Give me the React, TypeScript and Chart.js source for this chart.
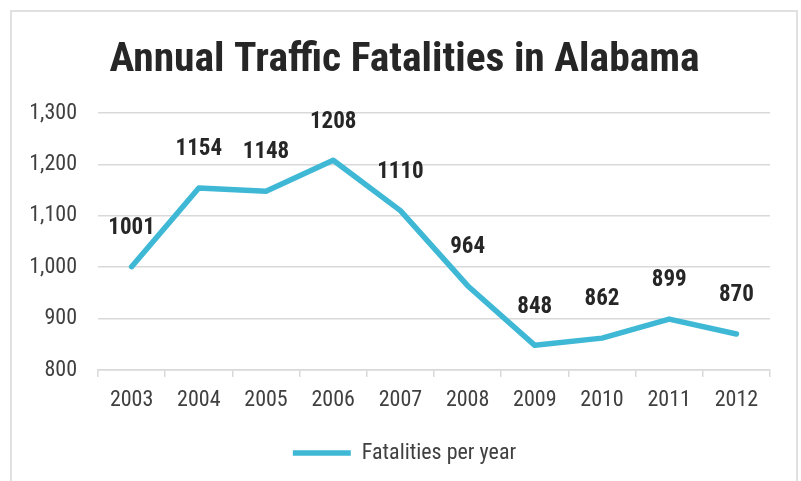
import { useEffect, useRef } from "react";
import { Chart, registerables } from "chart.js";

Chart.register(...registerables);

const years = ["2003", "2004", "2005", "2006", "2007", "2008", "2009", "2010", "2011", "2012"];
const fatalities = [1001, 1154, 1148, 1208, 1110, 964, 848, 862, 899, 870];
const yTicks = [800, 900, 1000, 1100, 1200, 1300];
const titleText = "Annual Traffic Fatalities in Alabama";
const seriesName = "Fatalities per year";

const FONT = "'Roboto Condensed', 'Open Sans Condensed', 'DejaVu Sans Condensed', sans-serif";
const LINE_COLOR = "#3FB8D5";

const valueLabels = {
  id: "valueLabels",
  afterDatasetsDraw(chart: any) {
    const ctx = chart.ctx;
    const meta = chart.getDatasetMeta(0);
    ctx.save();
    ctx.font = `bold 23px ${FONT}`;
    ctx.fillStyle = "#262626";
    ctx.textAlign = "center";
    ctx.textBaseline = "middle";
    meta.data.forEach((el: any, i: number) => {
      ctx.fillText(String(fatalities[i]), el.x, el.y - 38.5);
    });
    ctx.restore();
  },
};

export default function App() {
  const canvasRef = useRef<HTMLCanvasElement>(null);

  useEffect(() => {
    if (!canvasRef.current) return;
    const chart = new Chart(canvasRef.current, {
      type: "line",
      data: {
        labels: years,
        datasets: [
          {
            label: seriesName,
            data: fatalities,
            borderColor: LINE_COLOR,
            backgroundColor: LINE_COLOR,
            borderWidth: 5.5,
            borderCapStyle: "round",
            borderJoinStyle: "round",
            pointRadius: 0,
            pointHoverRadius: 0,
            tension: 0,
            fill: false,
          },
        ],
      },
      options: {
        animation: false,
        responsive: true,
        maintainAspectRatio: false,
        layout: { padding: { left: 8, right: 0, top: 0, bottom: 7 } },
        plugins: {
          title: {
            display: true,
            text: titleText,
            color: "#262626",
            font: { family: FONT, size: 41.5, weight: "bold", lineHeight: 1.2 },
            padding: { top: 36, bottom: 27.2 },
          },
          legend: {
            display: true,
            position: "bottom",
            labels: {
              color: "#404040",
              font: { family: FONT, size: 22 },
              usePointStyle: true,
              pointStyle: "line",
              pointStyleWidth: 58,
              padding: 24,
            },
          },
          tooltip: { enabled: false },
        },
        scales: {
          x: {
            offset: true,
            afterFit: (s: any) => {
              s.height = 48;
            },
            grid: {
              offset: true,
              drawOnChartArea: false,
              drawTicks: true,
              tickLength: 7,
              color: "#d9d9d9",
              lineWidth: 1.5,
            },
            border: { display: true, color: "#d9d9d9", width: 1.5 },
            ticks: {
              color: "#404040",
              font: { family: FONT, size: 22 },
              padding: 10,
              maxRotation: 0,
              autoSkip: false,
            },
          },
          y: {
            min: yTicks[0],
            max: yTicks[yTicks.length - 1],
            afterFit: (s: any) => {
              s.width = 90;
            },
            afterBuildTicks: (s: any) => {
              s.ticks = yTicks.map((v) => ({ value: v }));
            },
            grid: { drawTicks: false, color: "#d9d9d9", lineWidth: 1.5 },
            border: { display: false },
            ticks: {
              color: "#404040",
              font: { family: FONT, size: 22 },
              padding: 21,
              callback: (v: any) => Number(v).toLocaleString("en-US"),
            },
          },
          y2: {
            type: "linear",
            position: "right",
            display: true,
            afterFit: (s: any) => {
              s.width = 31;
            },
            grid: { display: false },
            border: { display: false },
            ticks: { display: false },
          },
        },
      },
      plugins: [valueLabels],
    } as any);
    return () => chart.destroy();
  }, []);

  return (
    <div style={{ position: "fixed", left: 0, top: 0, width: 801, height: 481, overflow: "hidden", background: "#fff" }}>
      <div
        style={{
          position: "absolute",
          left: 10,
          top: 10,
          width: 788,
          height: 520,
          border: "2px solid #e0e0e0",
          boxSizing: "border-box",
        }}
      />
      <canvas ref={canvasRef} style={{ position: "absolute", left: 0, top: 0 }} />
    </div>
  );
}
